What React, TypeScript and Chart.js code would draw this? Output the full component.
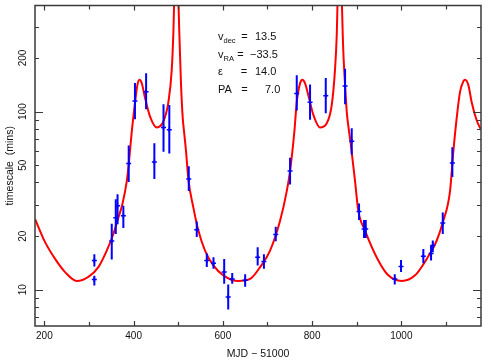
import React, { useEffect, useRef } from "react";
import { Chart, registerables } from "chart.js";

Chart.register(...registerables);

// Model curve
const curveX = [179.2, 201.6, 224, 246.4, 272.6, 298.6, 321, 339.8, 354.6, 365.8, 374.8, 384.7, 389.2, 395.9, 403.3, 408.4, 412.9, 418.3, 425.7, 436.9, 451.9, 466.7, 477.9, 485.4, 489.1, 495, 502.6, 506.3, 510.1, 513, 517.5, 522.7, 533.9, 545.1, 560, 578.7, 601.1, 634.7, 661, 683.4, 705.8, 728.2, 743.2, 750.6, 760.3, 765.6, 773, 778.2, 784.2, 793.2, 802.8, 817.8, 832.8, 844, 851.4, 855.2, 861, 870, 873.9, 877.6, 882.8, 886.5, 896.2, 903.6, 918.6, 948.4, 970.8, 1000.9, 1030.7, 1056.9, 1079.3, 1092.8, 1109.1, 1116.5, 1124, 1131.5, 1139, 1142.7, 1150.2, 1157.6, 1168.8, 1178.5];
const curveY = [24.9, 18.5, 14.9, 12.56, 11.2, 11.8, 13.4, 16.6, 20.55, 25.4, 30.2, 40.7, 51.1, 77.4, 112.9, 140.8, 150.8, 144.3, 119, 93.6, 81.4, 88.0, 112.9, 171, 278, 1000, 268.8, 140.8, 91.9, 77.4, 59.8, 41.6, 28.9, 21.5, 16.6, 13.7, 12.05, 11.2, 11.5, 13.4, 16.6, 24.4, 35.8, 46.4, 77.4, 112.9, 144, 150.8, 144, 119, 95.8, 81.4, 86, 108.8, 173, 268, 1000, 216, 140.8, 100, 77.4, 66, 40.7, 27.7, 21.5, 14.6, 12.05, 11.2, 12.05, 14.9, 18.9, 23.85, 35.8, 59.8, 91.9, 129, 148, 150.8, 140.8, 112.9, 89.4, 79];

// Observations with error bars
const obsX = [312, 312, 351, 360, 364, 377, 389, 403, 428, 446.5, 467, 480, 523.6, 541.5, 564, 579, 603, 612, 621, 650, 678, 692, 718.5, 750.6, 765.6, 795.4, 830.6, 873.9, 888.8, 905.2, 916.4, 920.2, 985.2, 999.3, 1049.3, 1066.6, 1070.4, 1092.8, 1114.3];
const obsY = [14.6, 11.4, 18.8, 25.4, 29.6, 26.0, 51.1, 114.7, 129.2, 52.2, 81.4, 79.1, 41.8, 21.7, 14.6, 14.1, 12.56, 9.1, 11.5, 11.3, 15.2, 14.4, 20.4, 46.4, 126.5, 112.7, 122.8, 139, 68.1, 27.5, 21.9, 21.9, 11.5, 13.5, 15.4, 16.0, 17.7, 23.7, 51.5];
const obsHigh = [15.8, 12.0, 23.5, 32.2, 34.4, 29.6, 64.6, 144.6, 164, 66.4, 110, 108.9, 49.4, 24.2, 16.0, 15.2, 14.9, 10.7, 12.4, 12.2, 17.3, 15.8, 22.6, 55.0, 160, 142, 154.6, 174, 80.6, 30.5, 24.6, 24.6, 12.2, 14.7, 16.95, 17.7, 18.9, 27.1, 63.1];
const obsLow = [13.5, 10.55, 14.8, 20.55, 23.35, 22.2, 40.2, 90.6, 103, 41.8, 59.6, 58.2, 35.8, 19.8, 13.4, 13.1, 10.8, 7.75, 10.8, 10.4, 13.7, 13.1, 18.7, 39.0, 101.5, 89.9, 97.8, 110, 57.4, 24.6, 19.5, 19.5, 10.7, 12.56, 14.1, 14.6, 16.25, 20.55, 43.0];

// Axes
const xMin = 179;
const xMax = 1178.5;
const yMin = 6.26;
const yMax = 394;
const xTicks = [200, 300, 400, 500, 600, 700, 800, 900, 1000, 1100];
const xLabelled = [200, 400, 600, 800, 1000];
const yTicks = [7, 8, 9, 10, 20, 30, 40, 50, 60, 70, 80, 90, 100, 200, 300];
const yLabelled = [10, 20, 50, 100, 200];
const yDecades = [10, 100];

const xTitle = "MJD \u2212 51000";
const yTitle = "timescale  (mins)";

// Annotation text
const annotMain = ["v", "v", "\u03b5", "PA"];
const annotSub = ["dec", "RA", "", ""];
const annotValue = ["13.5", "\u221233.5", "14.0", "7.0"];

const FONT = "'Liberation Sans', Arial, sans-serif";

const decorPlugin = {
  id: "decor",
  afterDatasetsDraw(chart: any) {
    const { ctx, chartArea: a, scales } = chart;
    const x = scales.x;
    const y = scales.y;
    ctx.save();
    ctx.beginPath();
    ctx.rect(a.left, a.top, a.right - a.left, a.bottom - a.top);
    ctx.clip();
    ctx.strokeStyle = "#0000ff";
    ctx.lineWidth = 2;
    obsX.forEach((vx, i) => {
      const px = x.getPixelForValue(vx);
      ctx.beginPath();
      ctx.moveTo(px, y.getPixelForValue(obsHigh[i]));
      ctx.lineTo(px, y.getPixelForValue(obsLow[i]));
      ctx.stroke();
    });
    ctx.restore();
  },
  afterDraw(chart: any) {
    const { ctx, chartArea: a, scales } = chart;
    const x = scales.x;
    const y = scales.y;
    ctx.save();
    // frame
    ctx.strokeStyle = "#3a3a3a";
    ctx.lineWidth = 1.5;
    ctx.strokeRect(a.left, a.top, a.right - a.left, a.bottom - a.top);
    // x ticks
    ctx.lineWidth = 1.2;
    xTicks.forEach((v) => {
      const px = Math.round(x.getPixelForValue(v)) + 0.5;
      const len = xLabelled.includes(v) ? 5 : 4;
      ctx.beginPath();
      ctx.moveTo(px, a.bottom);
      ctx.lineTo(px, a.bottom - len);
      ctx.moveTo(px, a.top);
      ctx.lineTo(px, a.top + len);
      ctx.stroke();
    });
    // y ticks
    yTicks.forEach((v) => {
      const py = Math.round(y.getPixelForValue(v)) + 0.5;
      const len = yDecades.includes(v) ? 8 : 4;
      ctx.beginPath();
      ctx.moveTo(a.left, py);
      ctx.lineTo(a.left + len, py);
      ctx.moveTo(a.right, py);
      ctx.lineTo(a.right - len, py);
      ctx.stroke();
    });
    // tick labels
    ctx.fillStyle = "#111";
    ctx.font = `10px ${FONT}`;
    ctx.textAlign = "center";
    ctx.textBaseline = "middle";
    xLabelled.forEach((v) => {
      ctx.fillText(String(v), x.getPixelForValue(v), a.bottom + 10);
    });
    yLabelled.forEach((v) => {
      ctx.save();
      ctx.translate(a.left - 12, y.getPixelForValue(v));
      ctx.rotate(-Math.PI / 2);
      ctx.fillText(String(v), 0, 0);
      ctx.restore();
    });
    // titles
    ctx.font = `10.5px ${FONT}`;
    ctx.fillText(xTitle, (a.left + a.right) / 2, a.bottom + 28);
    ctx.save();
    ctx.translate(10, (a.top + a.bottom) / 2);
    ctx.rotate(-Math.PI / 2);
    ctx.fillText(yTitle, 0, 0);
    ctx.restore();
    // annotation
    ctx.textBaseline = "alphabetic";
    ctx.textAlign = "left";
    const baselines = [40, 57.5, 75, 92.5];
    const eqX = [244.5, 240.5, 244, 244.5];
    const valueX = [255, 250, 255, 265];
    annotMain.forEach((m, i) => {
      const b = baselines[i];
      ctx.font = `11px ${FONT}`;
      ctx.fillText(m, 218, b);
      const w = ctx.measureText(m).width;
      if (annotSub[i]) {
        ctx.font = `7.5px ${FONT}`;
        ctx.fillText(annotSub[i], 218 + w, b + 3);
      }
      ctx.font = `11px ${FONT}`;
      ctx.textAlign = "center";
      ctx.fillText("=", eqX[i], b);
      ctx.textAlign = "left";
      ctx.fillText(annotValue[i], valueX[i], b);
    });
    ctx.restore();
  },
};

export default function App() {
  const ref = useRef<HTMLCanvasElement>(null);
  useEffect(() => {
    const canvas = ref.current;
    if (!canvas) return;
    const chart = new Chart(canvas, {
      type: "line",
      data: {
        datasets: [
          {
            label: "model",
            data: curveX.map((vx, i) => ({ x: vx, y: curveY[i] })),
            borderColor: "#ff0000",
            borderWidth: 2,
            pointRadius: 0,
            cubicInterpolationMode: "monotone",
            fill: false,
            order: 2,
          },
          {
            label: "obs",
            data: obsX.map((vx, i) => ({ x: vx, y: obsY[i] })),
            showLine: false,
            pointStyle: "cross",
            pointRadius: 2.5,
            pointBorderWidth: 1.5,
            borderColor: "#0000ff",
            backgroundColor: "#0000ff",
            order: 1,
          },
        ],
      },
      options: {
        responsive: false,
        animation: false,
        events: [],
        layout: { padding: { left: 35, right: 10, top: 3, bottom: 35 } },
        plugins: { legend: { display: false }, tooltip: { enabled: false } },
        scales: {
          x: { type: "linear", min: xMin, max: xMax, display: false },
          y: { type: "logarithmic", min: yMin, max: yMax, display: false },
        },
      },
      plugins: [decorPlugin],
    } as any);
    return () => chart.destroy();
  }, []);
  return (
    <div style={{ position: "fixed", left: 0, top: 0, width: 491, height: 361, background: "#fff" }}>
      <canvas ref={ref} width={491} height={361} style={{ display: "block", width: 491, height: 361 }} />
    </div>
  );
}
